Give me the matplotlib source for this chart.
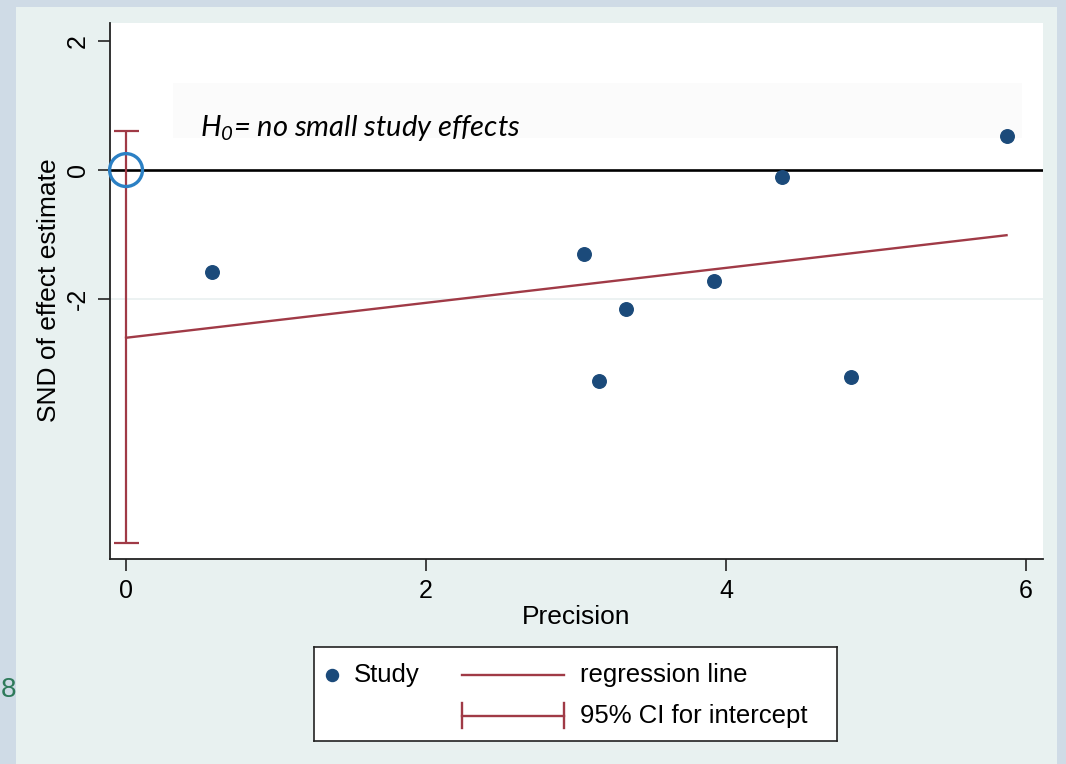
import matplotlib
matplotlib.use('Agg')
import matplotlib.pyplot as plt
from matplotlib.patches import Rectangle

# 数据
precision = [0.57, 3.05, 3.15, 3.33, 3.92, 4.37, 4.83, 5.87]
snd = [-1.58, -1.30, -3.27, -2.16, -1.72, -0.11, -3.21, 0.53]

# 回归线端点与截距的95%置信区间
reg_x = [0.0, 5.87]
reg_y = [-2.60, -1.01]
ci_low, ci_high = -5.78, 0.60

x_ticks = [0, 2, 4, 6]
y_ticks = [-2, 0, 2]

dot_color = '#1b4a7a'
red = '#a03a46'

plt.rcParams['font.family'] = ['Liberation Sans', 'DejaVu Sans']
plt.rcParams['mathtext.fontset'] = 'custom'
plt.rcParams['mathtext.it'] = 'Lato:italic'
plt.rcParams['mathtext.rm'] = 'Lato:italic'

fig = plt.figure(figsize=(10.66, 7.64), dpi=100)
fig.patch.set_facecolor('#cfdbe6')
# 内部面板
fig.patches.append(Rectangle((16 / 1066, 0), (1057 - 16) / 1066, 1 - 7 / 764,
                             transform=fig.transFigure, facecolor='#e8f1f0',
                             edgecolor='none', zorder=-5))

ax = fig.add_axes([110 / 1066, 1 - 559 / 764, 933 / 1066, 536 / 764])
ax.set_facecolor('white')
ax.set_xlim(-0.107, 6.113)
ax.set_ylim(-6.03, 2.28)

# 淡色文本框背景
ax.add_patch(Rectangle((0.0675, 0.785), 0.91, 0.103, transform=ax.transAxes,
                       facecolor='#fbfbfb', edgecolor='none', zorder=0))
ax.axhline(-2, color='#e9f0f0', lw=1.2, zorder=1)
ax.axhline(0, color='black', lw=1.9, zorder=2)

ax.plot(reg_x, reg_y, color=red, lw=1.7, zorder=3)
ax.errorbar([0], [(ci_low + ci_high) / 2],
            yerr=[[(ci_high - ci_low) / 2], [(ci_high - ci_low) / 2]],
            fmt='none', ecolor=red, elinewidth=1.6, capsize=9, capthick=1.6, zorder=3)
ax.scatter(precision, snd, s=95, color=dot_color, zorder=4)
ax.scatter([0], [0], s=560, facecolors='none', edgecolors='#2b80c4', linewidths=2.4,
           zorder=5, clip_on=False)

ax.text(0.493, 0.65, r'$H_0$= no small study effects', fontsize=21, style='italic',
        family='Lato', va='center', ha='left', zorder=5)

for s in ['top', 'right']:
    ax.spines[s].set_visible(False)
for s in ['left', 'bottom']:
    ax.spines[s].set_linewidth(1.3)
    ax.spines[s].set_color('#222222')

ax.set_xticks(x_ticks)
ax.set_yticks(y_ticks)
ax.set_yticklabels([str(v) for v in y_ticks], rotation=90, va='center')
ax.tick_params(axis='both', labelsize=18, length=8.5, width=1.3, color='#333333')
ax.tick_params(axis='x', pad=6)
ax.tick_params(axis='y', pad=6)

ax.set_xlabel('Precision', fontsize=19, va='center')
ax.xaxis.set_label_coords((576 - 110) / 933, (559 - 617) / 536)
ax.set_ylabel('SND of effect estimate', fontsize=19, va='center', rotation_mode='anchor')
ax.yaxis.set_label_coords((49 - 110) / 933, (559 - 290) / 536)

# 图例（手工绘制）
lg = fig.add_axes([314 / 1066, 1 - 741 / 764, 523 / 1066, 94 / 764])
lg.set_xlim(0, 1)
lg.set_ylim(0, 1)
lg.set_xticks([])
lg.set_yticks([])
for s in lg.spines.values():
    s.set_linewidth(1.2)
    s.set_color('#222222')
lg.scatter([0.034], [0.70], s=75, color=dot_color)
lg.text(0.0765, 0.70, 'Study', fontsize=18.5, va='center')
lg.plot([0.283, 0.478], [0.70, 0.70], color=red, lw=1.7)
lg.text(0.509, 0.70, 'regression line', fontsize=18.5, va='center')
lg.plot([0.283, 0.478], [0.266, 0.266], color=red, lw=1.7)
lg.plot([0.283, 0.283], [0.138, 0.404], color=red, lw=1.7)
lg.plot([0.478, 0.478], [0.138, 0.404], color=red, lw=1.7)
lg.text(0.509, 0.266, '95% CI for intercept', fontsize=18.5, va='center')

fig.text(1 / 1066, 1 - 690 / 764, '8', fontsize=20, color='#2e7a5a', ha='left', va='center')

fig.savefig('out.png', dpi=100)
